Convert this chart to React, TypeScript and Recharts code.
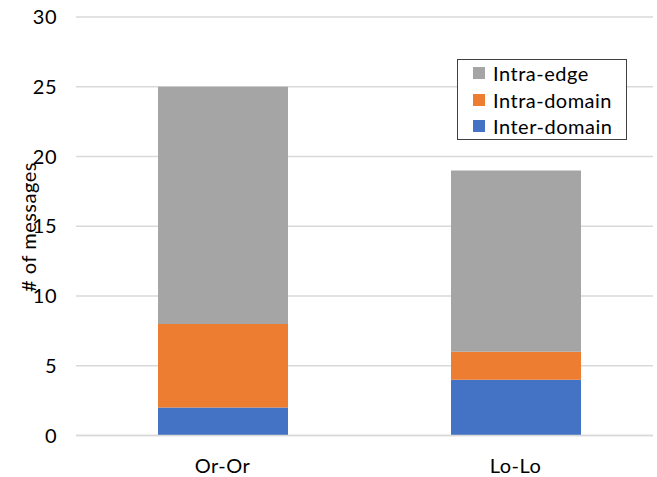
import React from "react";
import { BarChart, Bar, XAxis, YAxis, CartesianGrid } from "recharts";

const categories = ["Or-Or", "Lo-Lo"];
const interDomain = [2, 4];
const intraDomain = [6, 2];
const intraEdge = [17, 13];
const yTicks = [0, 5, 10, 15, 20, 25, 30];

const data = categories.map((name, i) => ({
  name,
  inter: interDomain[i],
  intraD: intraDomain[i],
  intraE: intraEdge[i],
}));

const FONT = "Lato, 'Open Sans', sans-serif";
const FS = 20;
const LS = 0.5;

const legendItems = [
  { label: "Intra-edge", color: "#A5A5A5" },
  { label: "Intra-domain", color: "#ED7D31" },
  { label: "Inter-domain", color: "#4472C4" },
];

const LegendBox = () => (
  <div
    style={{
      position: "absolute",
      left: 457,
      top: 59,
      border: "1px solid #404040",
      background: "#fff",
      width: 170,
      height: 81,
      boxSizing: "border-box",
      padding: "0 0 0 15px",
      fontFamily: FONT,
      fontSize: FS,
      letterSpacing: LS,
      color: "#000",
      lineHeight: "26.5px",
    }}
  >
    {legendItems.map((it) => (
      <div key={it.label} style={{ display: "flex", alignItems: "center", height: 26.5 }}>
        <span style={{ display: "inline-block", width: 12, height: 12, background: it.color, marginRight: 8, flexShrink: 0 }} />
        <span>{it.label}</span>
      </div>
    ))}
  </div>
);

export default function App() {
  return (
    <div style={{ position: "absolute", left: 0, top: 0, width: 657, height: 477, background: "#fff" }}>
      <BarChart
        width={657}
        height={477}
        data={data}
        margin={{ top: 17, right: 4, bottom: 0, left: 0 }}
        barSize={130}
      >
        <CartesianGrid vertical={false} stroke="#D9D9D9" strokeWidth={1.3} />
        <XAxis
          dataKey="name"
          axisLine={{ stroke: "#D9D9D9", strokeWidth: 1.3 }}
          tickLine={false}
          tickSize={0}
          tickMargin={23}
          height={41.5}
          padding={{ left: 0, right: -9 }}
          tick={{ fill: "#000", fontSize: FS, fontFamily: FONT, letterSpacing: LS }}
        />
        <YAxis
          domain={[0, 30]}
          ticks={yTicks}
          width={76}
          axisLine={false}
          tickLine={false}
          tickSize={0}
          tickMargin={19}
          tick={{ fill: "#000", fontSize: FS, fontFamily: FONT, letterSpacing: LS }}
          label={{
            content: () => (
              <text
                x={36}
                y={227}
                transform="rotate(-90 36 227)"
                textAnchor="middle"
                fontSize={FS}
                fontFamily={FONT}
                letterSpacing={LS}
                fill="#000"
              >
                # of messages
              </text>
            ),
          }}
        />
        <Bar dataKey="inter" stackId="a" fill="#4472C4" isAnimationActive={false} name="Inter-domain" />
        <Bar dataKey="intraD" stackId="a" fill="#ED7D31" isAnimationActive={false} name="Intra-domain" />
        <Bar dataKey="intraE" stackId="a" fill="#A5A5A5" isAnimationActive={false} name="Intra-edge" />
      </BarChart>
      <LegendBox />
    </div>
  );
}
